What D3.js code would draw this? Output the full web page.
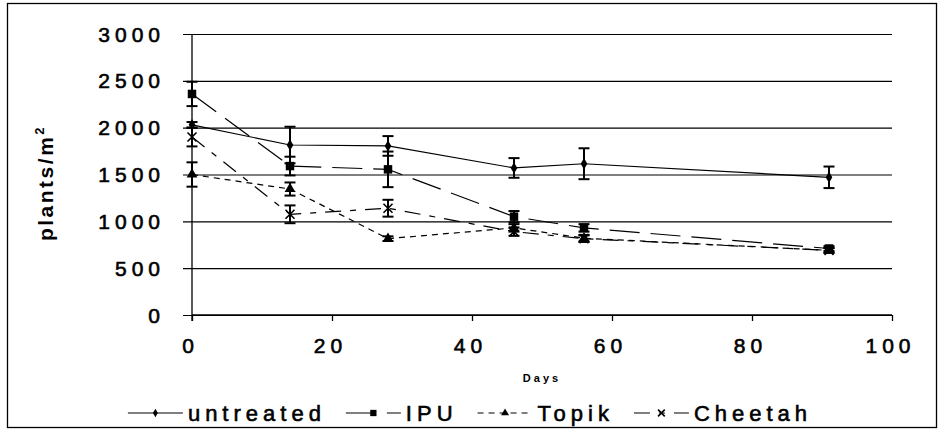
<!DOCTYPE html>
<html>
<head>
<meta charset="utf-8">
<script src="https://cdn.jsdelivr.net/npm/d3@7"></script>
<style>
  html, body { margin: 0; padding: 0; background: #fff; }
  svg { display: block; }
  text { font-family: "Liberation Sans", Arial, sans-serif; fill: #000; }
  .thick { stroke: #000; stroke-width: 0.6px; }
</style>
</head>
<body>
<svg id="chart" width="942" height="439"></svg>
<script>
// ---- data ----
const days = [0, 14, 28, 46, 56, 91];
const untreated = [2030, 1815, 1805, 1570, 1615, 1470];
const untreatedErr = [30, 195, 105, 105, 165, 115];
const ipu = [2360, 1590, 1555, 1050, 930, 710];
const ipuErr = [130, 100, 190, 60, 40, 25];
const topik = [1500, 1345, 815, 930, 820, 690];
const topikErr = [130, 70, 25, 40, 35, 25];
const cheetah = [1900, 1075, 1140, 890, 815, 690];
const cheetahErr = [100, 95, 90, 45, 35, 25];
const seriesNames = ["untreated", "IPU", "Topik", "Cheetah"];
const xTicks = [0, 20, 40, 60, 80, 100];
const yTicks = [0, 500, 1000, 1500, 2000, 2500, 3000];
const xTitle = "Days";
const yTitle = "plants/m";

const series = [
  { name: seriesNames[0], vals: untreated, err: untreatedErr, dash: null, marker: "diamond" },
  { name: seriesNames[1], vals: ipu, err: ipuErr, dash: "30,11", marker: "square" },
  { name: seriesNames[2], vals: topik, err: topikErr, dash: "6,5", marker: "triangle" },
  { name: seriesNames[3], vals: cheetah, err: cheetahErr, dash: "16,9,6,9", marker: "x" }
];

const svg = d3.select("#chart");
const x = d3.scaleLinear().domain([0, 100]).range([192, 892]);
const y = d3.scaleLinear().domain([0, 3000]).range([315, 34]);

// outer border
svg.append("rect").attr("x", 7.5).attr("y", 3.5).attr("width", 929).attr("height", 424)
  .attr("fill", "#fff").attr("stroke", "#000").attr("stroke-width", 1.3);

// gridlines (y axis ticks extend left)
const yAxis = d3.axisLeft(y).tickValues(yTicks).tickSize(-(892 - 183)).tickFormat("");
svg.append("g").attr("transform", "translate(183,0)").call(yAxis)
  .call(g => g.select(".domain").remove())
  .call(g => g.selectAll("line").attr("stroke", "#000").attr("stroke-width", 1.2));

// y axis line
svg.append("line").attr("x1", 192).attr("x2", 192).attr("y1", y(3000)).attr("y2", y(0) + 6)
  .attr("stroke", "#000").attr("stroke-width", 1.3);

// x axis
const xAxis = d3.axisBottom(x).tickValues(xTicks).tickSize(6).tickFormat("");
svg.append("g").attr("transform", `translate(0,${y(0)})`).call(xAxis)
  .call(g => g.select(".domain").attr("stroke", "#000").attr("stroke-width", 1.3).attr("d", `M192,0H892`))
  .call(g => g.selectAll("line").attr("stroke", "#000").attr("stroke-width", 1.3));

// y tick labels
svg.append("g").selectAll("text").data(yTicks).join("text")
  .attr("class", "thick")
  .attr("x", 165).attr("y", d => y(d)).attr("dy", "0.36em")
  .attr("text-anchor", "end").attr("font-size", 21).attr("letter-spacing", 5)
  .text(d => d);

// x tick labels
svg.append("g").selectAll("text").data(xTicks).join("text")
  .attr("class", "thick")
  .attr("x", d => x(d) - 1.5).attr("y", 353)
  .attr("text-anchor", "middle").attr("font-size", 21).attr("letter-spacing", 5)
  .text(d => d);

// axis titles
svg.append("text").attr("x", 542).attr("y", 382).attr("text-anchor", "middle")
  .attr("font-size", 11).attr("font-weight", "bold").attr("letter-spacing", 3).text(xTitle);

const yt = svg.append("text").attr("transform", "translate(53,183) rotate(-90)")
  .attr("text-anchor", "middle").attr("font-size", 21).attr("font-weight", "bold").attr("letter-spacing", 2.5);
yt.append("tspan").text(yTitle);
yt.append("tspan").attr("dy", -9).attr("font-size", 13).text("2");

// marker drawing
function drawMarker(g, type, cx, cy, scale) {
  const s = scale || 1;
  if (type === "diamond") {
    g.append("path").attr("d", d3.symbol(d3.symbolDiamond, 38 * s)())
      .attr("transform", `translate(${cx},${cy})`).attr("fill", "#000");
  } else if (type === "square") {
    g.append("path").attr("d", d3.symbol(d3.symbolSquare, 72 * s)())
      .attr("transform", `translate(${cx},${cy})`).attr("fill", "#000");
  } else if (type === "triangle") {
    g.append("path").attr("d", d3.symbol(d3.symbolTriangle, 50 * s)())
      .attr("transform", `translate(${cx},${cy})`).attr("fill", "#000");
  } else {
    const r = 4.5 * Math.sqrt(s);
    g.append("path").attr("d", `M${-r},${-r}L${r},${r}M${-r},${r}L${r},${-r}`)
      .attr("transform", `translate(${cx},${cy})`).attr("stroke", "#000").attr("stroke-width", 1.6).attr("fill", "none");
  }
}

const plot = svg.append("g");
const line = d3.line().x(d => x(d[0])).y(d => y(d[1]));

series.forEach(s => {
  const pts = days.map((d, i) => [d, s.vals[i]]);
  plot.append("path").attr("d", line(pts)).attr("fill", "none")
    .attr("stroke", "#000").attr("stroke-width", 1.2)
    .attr("stroke-dasharray", s.dash);
});

// error bars
series.forEach(s => {
  const g = plot.append("g");
  days.forEach((d, i) => {
    const cx = x(d), top = y(s.vals[i] + s.err[i]), bot = y(s.vals[i] - s.err[i]);
    g.append("line").attr("x1", cx).attr("x2", cx).attr("y1", top).attr("y2", bot)
      .attr("stroke", "#000").attr("stroke-width", 2);
    [top, bot].forEach(yy => g.append("line").attr("x1", cx - 5.5).attr("x2", cx + 5.5)
      .attr("y1", yy).attr("y2", yy).attr("stroke", "#000").attr("stroke-width", 2));
  });
});

// markers
series.forEach(s => {
  const g = plot.append("g");
  days.forEach((d, i) => drawMarker(g, s.marker, x(d), y(s.vals[i])));
});

// legend
const legend = svg.append("g");
const items = [];
series.forEach((s, i) => {
  const g = legend.append("g");
  g.append("line").attr("x1", 0).attr("x2", 55).attr("y1", 0).attr("y2", 0)
    .attr("stroke", "#000").attr("stroke-width", 1.2).attr("stroke-dasharray", s.dash);
  drawMarker(g, s.marker, 27.5, 0, 0.55);
  const t = g.append("text").attr("class", "thick").attr("x", 60).attr("y", 0).attr("dy", "0.36em")
    .attr("font-size", 22).attr("letter-spacing", 5).text(s.name);
  const w = 60 + t.node().getComputedTextLength();
  items.push({ g, w });
});
let total = items.reduce((a, b) => a + b.w, 0) + 20 * (items.length - 1);
let start = 470 - total / 2;
items.forEach(it => { it.g.attr("transform", `translate(${start},413)`); start += it.w + 20; });
</script>
</body>
</html>
